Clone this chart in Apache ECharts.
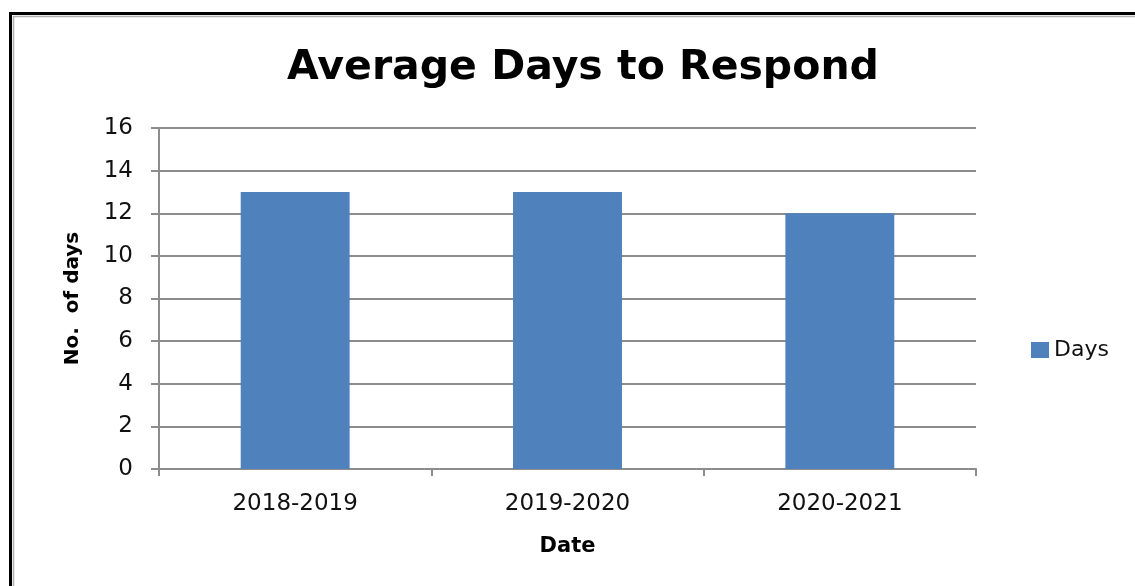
<!DOCTYPE html>
<html><head><meta charset="utf-8">
<script src="https://cdn.jsdelivr.net/npm/echarts@6/dist/echarts.min.js"></script>
<style>html,body{margin:0;padding:0;background:#fff}#c{width:1135px;height:586px}</style>
</head><body><div id="c"></div>
<script>
const categories = ['2018-2019', '2019-2020', '2020-2021'];
const days = [13, 13, 12];
const yTicks = [0, 2, 4, 6, 8, 10, 12, 14, 16];

const FONT = '"DejaVu Sans", sans-serif';
const chart = echarts.init(document.getElementById('c'));
chart.setOption({
  animation: false,
  backgroundColor: '#fff',
  textStyle: { fontFamily: FONT },
  graphic: [
    { type: 'rect', shape: { x: 10.5, y: 13.5, width: 1300, height: 800 },
      style: { fill: 'none', stroke: '#000', lineWidth: 3 }, z: 10 },
    { type: 'rect', shape: { x: 13.5, y: 16.5, width: 1300, height: 800 },
      style: { fill: 'none', stroke: '#b0b0b0', lineWidth: 1.5 }, z: 10 }
  ],
  title: {
    text: 'Average Days to Respond',
    left: 578, top: 43, textAlign: 'center',
    textStyle: { fontFamily: FONT, fontSize: 41, fontWeight: 'bold', color: '#000' }
  },
  legend: {
    data: ['Days'], left: 1026, top: 334, orient: 'vertical',
    itemWidth: 18, itemHeight: 16, itemGap: 8,
    textStyle: { fontFamily: FONT, fontSize: 22, color: '#111' },
    icon: 'rect'
  },
  grid: { left: 159, top: 128, width: 817, height: 341, containLabel: false },
  xAxis: {
    type: 'category', data: categories,
    name: 'Date', nameLocation: 'middle', nameGap: 67,
    nameTextStyle: { fontFamily: FONT, fontSize: 21, fontWeight: 'bold', color: '#000' },
    axisLine: { lineStyle: { color: '#8c8c8c', width: 2 } },
    axisTick: { show: true, alignWithLabel: false, length: 7, lineStyle: { color: '#8c8c8c', width: 2 } },
    axisLabel: { fontFamily: FONT, fontSize: 23, color: '#111', margin: 24 }
  },
  yAxis: {
    type: 'value', min: 0, max: 16, interval: 2,
    name: 'No.  of days', nameLocation: 'middle', nameGap: 76, nameRotate: 90,
    nameTextStyle: { fontFamily: FONT, fontSize: 20, fontWeight: 'bold', color: '#000' },
    axisLine: { show: true, lineStyle: { color: '#8c8c8c', width: 2 } },
    axisTick: { show: true, inside: false, length: 8, lineStyle: { color: '#8c8c8c', width: 2 } },
    splitLine: { lineStyle: { color: '#8c8c8c', width: 2 } },
    axisLabel: { fontFamily: FONT, fontSize: 23, color: '#111', margin: 26,
      formatter: v => yTicks.includes(v) ? String(v) : '' }
  },
  series: [{
    name: 'Days', type: 'bar', data: days, barWidth: '40%',
    itemStyle: { color: '#4f81bd' }
  }]
});
</script></body></html>
